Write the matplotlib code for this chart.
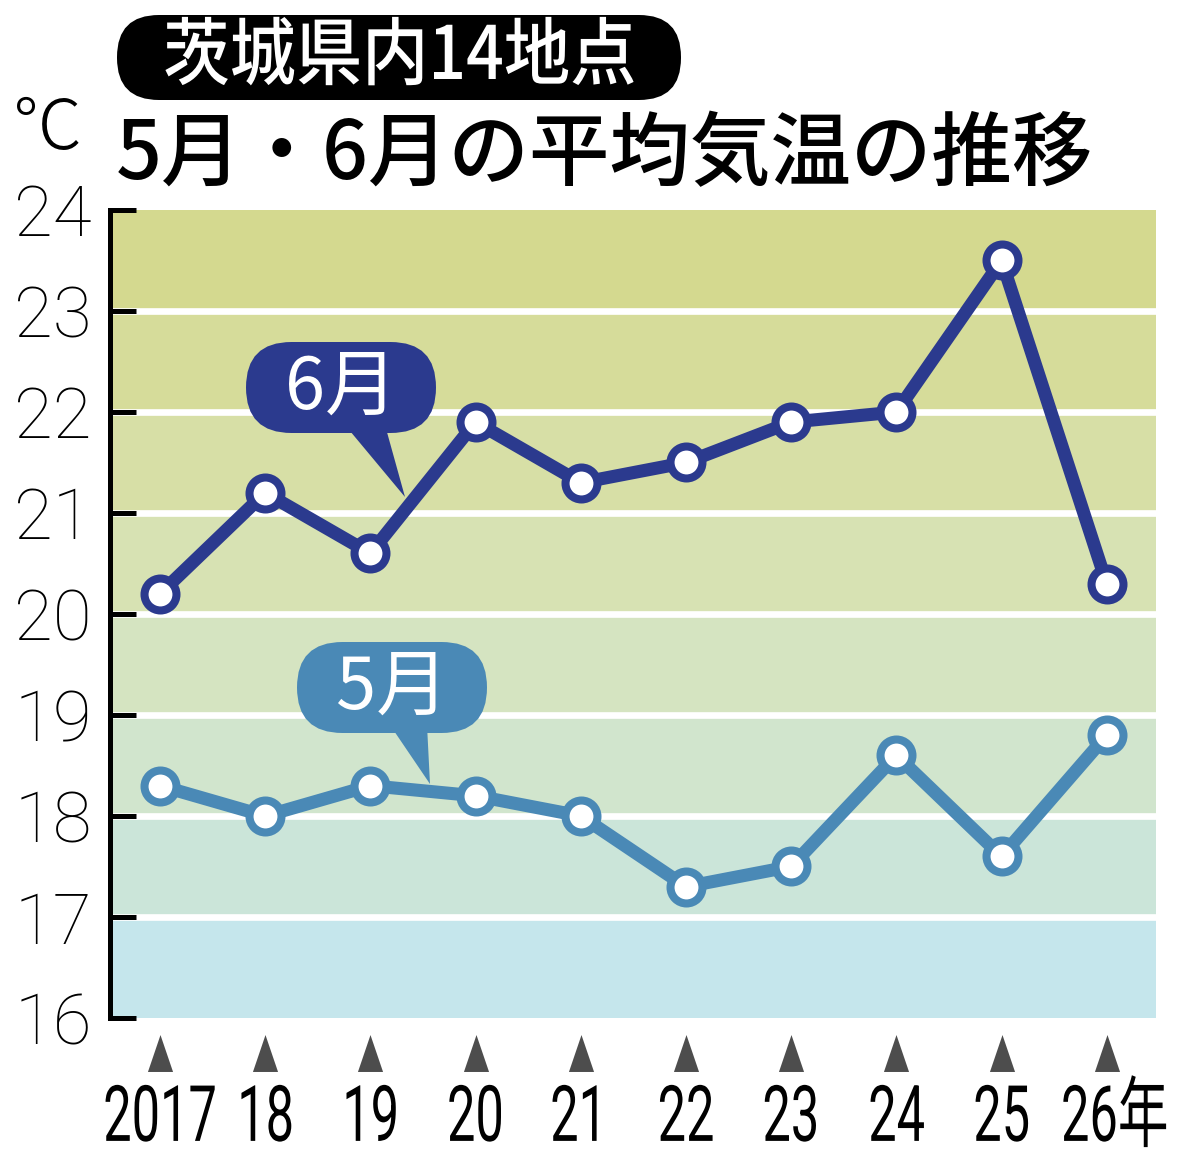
import matplotlib
matplotlib.use("Agg")
import matplotlib.pyplot as plt
from matplotlib import patheffects
from matplotlib.transforms import Affine2D, blended_transform_factory, ScaledTranslation
from matplotlib.patches import FancyBboxPatch, Polygon

# ---------------- data ----------------
years = [2017, 2018, 2019, 2020, 2021, 2022, 2023, 2024, 2025, 2026]
year_labels = ["2017", "18", "19", "20", "21", "22", "23", "24", "25", "26年"]
june = [20.2, 21.2, 20.6, 21.9, 21.3, 21.5, 21.9, 22.0, 23.5, 20.3]
may = [18.3, 18.0, 18.3, 18.2, 18.0, 17.3, 17.5, 18.6, 17.6, 18.8]
y_ticks = [16, 17, 18, 19, 20, 21, 22, 23, 24]
band_colors = ["#c5e6ec", "#cbe5d9", "#d1e5cd", "#d5e4c1", "#d7e2b3",
               "#d7dfa6", "#d6dc9a", "#d4d98f"]

JUNE_C = "#2b3a8e"
MAY_C = "#4a89b6"
CJK = "Noto Sans CJK JP"


class HScale(patheffects.AbstractPathEffect):
    """Horizontally condense text glyphs around their centre."""
    def __init__(self, sx):
        super().__init__()
        self.sx = sx

    def draw_path(self, renderer, gc, tpath, affine, rgbFace=None):
        bb = tpath.get_extents(affine)
        cx = (bb.x0 + bb.x1) / 2
        aff = affine + Affine2D().translate(-cx, 0).scale(self.sx, 1).translate(cx, 0)
        renderer.draw_path(gc, tpath, aff, rgbFace)


W, H = 1200, 1163
fig = plt.figure(figsize=(W / 100, H / 100), dpi=100)
fig.patch.set_facecolor("white")

ax = fig.add_axes([110 / W, (H - 1018) / H, 1046 / W, 808 / H])
ax.set_xlim(2016.525, 2026.468)
ax.set_ylim(16, 24)

# bands
for lo, c in zip(y_ticks[:-1], band_colors):
    ax.axhspan(lo, lo + 1, color=c, zorder=0.5, lw=0)
for v in y_ticks[1:-1]:
    ax.axhline(v, color="white", lw=4.8, zorder=1)

# lines
ax.plot(years, june, color=JUNE_C, lw=9.4, marker="o", ms=23, mew=5.8,
        mfc="white", mec=JUNE_C, zorder=4, solid_joinstyle="round")
ax.plot(years, may, color=MAY_C, lw=9.4, marker="o", ms=23, mew=5.8,
        mfc="white", mec=MAY_C, zorder=4, solid_joinstyle="round")

# spines / ticks
for s in ["top", "right", "bottom"]:
    ax.spines[s].set_visible(False)
ax.spines["left"].set_linewidth(3.6)
ax.spines["left"].set_color("black")
ax.set_yticks(y_ticks)
ax.set_yticklabels([str(v) for v in y_ticks], fontfamily="Roboto",
                   fontweight="light", fontsize=51)
ax.tick_params(axis="y", direction="in", length=19, width=3.6, pad=13,
               color="black")
ax.set_xticks(years)
ax.set_xticklabels(year_labels, fontfamily=["Roboto", CJK], fontweight="normal",
                   fontsize=56)
ax.tick_params(axis="x", length=0, pad=46)
for lab in ax.get_xticklabels():
    lab.set_path_effects([HScale(0.65)])
last = ax.get_xticklabels()[-1]
last.set_transform(last.get_transform() + ScaledTranslation(0.08, 0, fig.dpi_scale_trans))

# triangles under each year
tri = [(-0.34, -0.5), (0.34, -0.5), (0.0, 0.5)]
btf = blended_transform_factory(ax.transData, ax.transAxes)
ax.plot(years, [-0.043] * len(years), linestyle="none", marker=tri, ms=26.6,
        color="#4d4d4d", mew=0, transform=btf, clip_on=False)

# overlay axes in pixel coordinates
ov = fig.add_axes([0, 0, 1, 1], zorder=5)
ov.set_xlim(0, W)
ov.set_ylim(H, 0)
ov.axis("off")

# title box
ov.add_patch(FancyBboxPatch((117, 15), 564, 85,
                            boxstyle="round,pad=0,rounding_size=42",
                            fc="black", ec="none"))
t1 = ov.text(400, 58, "茨城県内14地点", family=[CJK], fontsize=53, color="white",
             ha="center", va="center", fontweight="medium")
t1.set_path_effects([HScale(0.9)])

ov.text(48, 130, "℃", family=[CJK, "DejaVu Sans"], fontsize=50, color="black",
        ha="center", va="center", fontweight="light")
ov.text(116, 156, "5月・6月の平均気温の推移", family=[CJK], fontsize=58,
        color="black", ha="left", va="center", fontweight="medium")

# callouts
def callout(x0, y0, x1, y1, tail, color, text):
    ov.add_patch(Polygon(tail, closed=True, fc=color, ec="none", zorder=6))
    ov.add_patch(FancyBboxPatch((x0, y0), x1 - x0, y1 - y0,
                                boxstyle="round,pad=0,rounding_size=%f" % ((y1 - y0) / 2),
                                fc=color, ec="none", zorder=6))
    ov.text((x0 + x1) / 2, (y0 + y1) / 2 + 1, text, family=[CJK], fontsize=52,
            color="white", ha="center", va="center", zorder=7)

callout(246, 342, 436, 433, [(345, 425), (385, 425), (405, 497)], JUNE_C, "6月")
callout(297, 642, 487, 733, [(390, 725), (427, 725), (430, 784)], MAY_C, "5月")

fig.savefig("out.png", dpi=100)
